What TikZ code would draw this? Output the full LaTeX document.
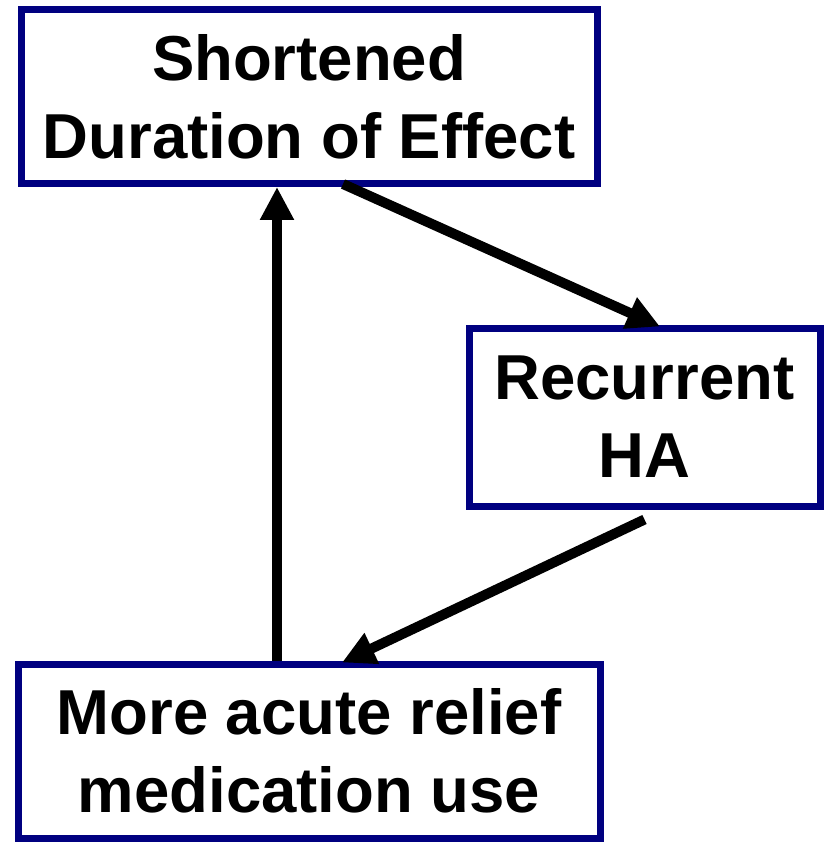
\documentclass[tikz,border=0pt]{standalone}
\usepackage{fontspec}
\setmainfont{Liberation Sans}
\usetikzlibrary{arrows.meta}
\definecolor{boxnavy}{HTML}{000080}
\begin{document}
\begin{tikzpicture}[x=1pt,y=-1pt,
  box/.style={draw=boxnavy, line width=7pt, fill=white, align=center,
    font=\fontsize{63.5}{78}\selectfont\bfseries, inner sep=0pt},
  arr/.style={line width=10pt, -{Triangle[width=32pt,length=33pt]}}]
\useasboundingbox (0,0) rectangle (825,842);
\node[box, minimum width=576pt, minimum height=174pt] (eff) at (309,96.5) {Shortened\\Duration of Effect};
\node[box, minimum width=351pt, minimum height=178pt] (ha) at (644.5,417) {Recurrent\\HA};
\node[box, minimum width=582pt, minimum height=174pt] (med) at (309,751) {More acute relief\\medication use};
\draw[arr] ([xshift=-32pt]med.north) -- ([xshift=-32pt]eff.south);
\draw[arr] ([xshift=34pt,yshift=3pt]eff.south) -- ([xshift=15.5pt,yshift=-2pt]ha.north);
\draw[arr] ([yshift=-10pt]ha.south) -- ([xshift=33pt,yshift=-2pt]med.north);
\end{tikzpicture}
\end{document}
